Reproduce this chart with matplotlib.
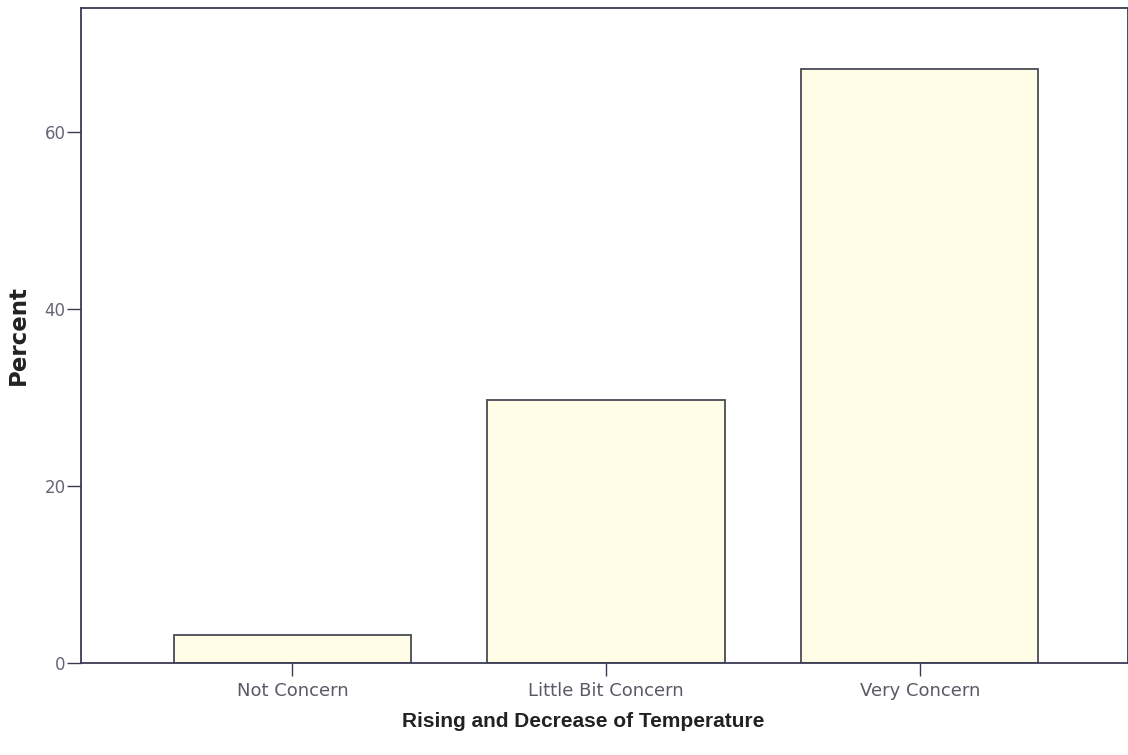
import matplotlib
matplotlib.use("Agg")
import matplotlib.pyplot as plt

categories = ["Not Concern", "Little Bit Concern", "Very Concern"]
percent = [3.2, 29.7, 67.1]
y_ticks = [0, 20, 40, 60]

plt.rcParams['font.family'] = ['DejaVu Sans']

fig = plt.figure(figsize=(11.28, 7.55), dpi=100)
ax = fig.add_axes([0.0718, 0.1219, 0.9282, 0.8675])

x = range(len(categories))
ax.bar(x, percent, width=0.757, color='#fffde6', edgecolor='#4a4a55', linewidth=1.3)

ax.set_xlim(-0.674, 2.664)
ax.set_ylim(0, 74)
ax.set_xticks(list(x))
ax.set_xticklabels(categories, fontsize=13, color='#5a5a66')
ax.set_yticks(y_ticks)
ax.set_yticklabels([str(v) for v in y_ticks], fontsize=12, color='#666677')

ax.tick_params(axis='x', direction='out', length=9, width=1, color='#3a3a55', pad=5)
ax.tick_params(axis='y', direction='out', length=10, width=1, color='#3a3a55', pad=1)
for side in ['left', 'bottom', 'top', 'right']:
    ax.spines[side].set_color('#3a3a55')
    ax.spines[side].set_linewidth(1.3)

ax.set_xlabel('Rising and Decrease of Temperature', fontsize=15, fontweight='bold',
              color='#222222', family='Liberation Sans')
ax.xaxis.set_label_coords(0.4795, -0.075)
ax.set_ylabel('Percent', fontsize=16.5, fontweight='bold', color='#222222')
ax.yaxis.set_label_coords(-0.049, 0.5)

fig.savefig('out.png', dpi=100, facecolor='white')
